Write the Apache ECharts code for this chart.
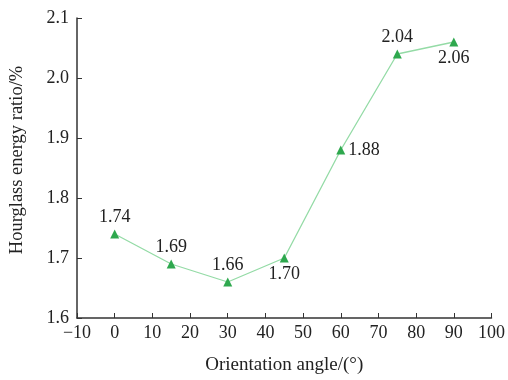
<!DOCTYPE html>
<html><head><meta charset="utf-8">
<script src="https://cdn.jsdelivr.net/npm/echarts@6/dist/echarts.min.js"></script>
<style>html,body{margin:0;padding:0;background:#fff}#c{width:508px;height:380px}</style>
</head><body><div id="c"></div>
<script>
const angles = [0, 15, 30, 45, 60, 75, 90];
const ratios = [1.74, 1.69, 1.66, 1.70, 1.88, 2.04, 2.06];
const labelPos = ['top', 'top', 'top', 'bottom', 'right', 'top', 'bottom'];
const xTicks = [-10, 100, 10];
const yTicks = [1.6, 2.1, 0.1];
const font = 'Liberation Serif';
const chart = echarts.init(document.getElementById('c'));
chart.setOption({
  animation: false,
  grid: {left: 76, right: 16, top: 18, bottom: 58},
  xAxis: {
    type: 'value', min: xTicks[0], max: xTicks[1], interval: xTicks[2],
    name: 'Orientation angle/(°)', nameLocation: 'middle', nameGap: 38,
    nameTextStyle: {fontFamily: font, fontSize: 19, color: '#222'},
    axisLine: {onZero: false, lineStyle: {color: '#333', width: 1.5}},
    axisTick: {inside: true, length: 5, lineStyle: {color: '#333'}},
    axisLabel: {fontFamily: font, fontSize: 18, color: '#222', margin: 6,
      formatter: v => (v < 0 ? '\u2212' + Math.abs(v) : String(v))},
    splitLine: {show: false}
  },
  yAxis: {
    type: 'value', min: yTicks[0], max: yTicks[1], interval: yTicks[2],
    name: 'Hourglass energy ratio/%', nameLocation: 'middle', nameGap: 50,
    nameTextStyle: {fontFamily: font, fontSize: 18.5, color: '#222', padding: [0, 0, 0, 16]},
    axisLine: {show: true, onZero: false, lineStyle: {color: '#333', width: 1.5}},
    axisTick: {show: true, inside: true, length: 5, lineStyle: {color: '#333'}},
    axisLabel: {fontFamily: font, fontSize: 18, color: '#222', margin: 8, formatter: v => v.toFixed(1)},
    splitLine: {show: false}
  },
  series: [{
    type: 'line',
    data: angles.map((a, i) => ({
      value: [a, ratios[i]],
      label: {position: labelPos[i]}
    })),
    symbol: 'triangle', symbolSize: 9,
    lineStyle: {color: '#94dba6', width: 1.3},
    itemStyle: {color: '#2ea84e'},
    label: {show: true, fontFamily: font, fontSize: 18, color: '#222', distance: 3,
      formatter: p => p.value[1].toFixed(2)}
  }]
});
</script></body></html>
